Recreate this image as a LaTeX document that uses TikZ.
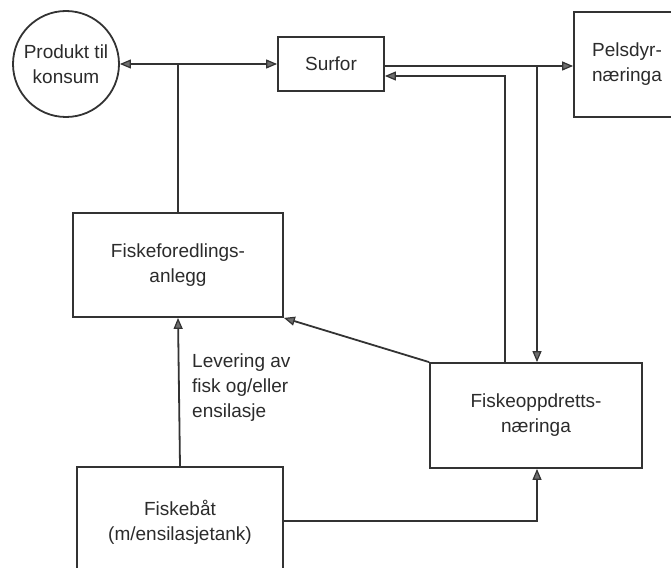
\documentclass[tikz,border=0pt]{standalone}
\usepackage{fontspec}
\setmainfont{Liberation Sans}
\usetikzlibrary{arrows.meta}
\definecolor{ink}{HTML}{333333}
\definecolor{tipfill}{HTML}{6E6E6E}
\begin{document}
\begin{tikzpicture}[x=1pt,y=1pt,
  every node/.style={font=\fontsize{19}{25}\selectfont, text=ink!85!black},
  box/.style={draw=ink, line width=1.8pt, rectangle, align=center, inner sep=0pt},
  conn/.style={draw=ink, line width=1.8pt},
  tip/.style={-{Triangle[length=11pt,width=9pt,line width=1.2pt,fill=tipfill]}},
  tipboth/.style={{Triangle[length=11pt,width=9pt,line width=1.2pt,fill=tipfill]}-{Triangle[length=11pt,width=9pt,line width=1.2pt,fill=tipfill]}}
]
\useasboundingbox (0,0) rectangle (671,-567);
\begin{scope}
\clip (0,0) rectangle (671,-567);
\node[draw=ink, line width=1.8pt, circle, minimum size=106pt, inner sep=0pt, align=center] (prod) at (66,-64) {Produkt til\\konsum};
\node[box, minimum width=106pt, minimum height=54pt] (surfor) at (331,-64) {Surfor};
\node[box, minimum width=106pt, minimum height=105pt] (pels) at (627,-64.5) {Pelsdyr-\\næringa};
\node[box, minimum width=210pt, minimum height=104pt] (fored) at (178,-265) {Fiskeforedlings-\\anlegg};
\node[box, minimum width=212pt, minimum height=105pt] (oppd) at (536,-415.5) {Fiskeoppdretts-\\næringa};
\node[box, minimum width=206pt, minimum height=110pt] (bat) at (180,-522) {Fiskebåt\\(m/ensilasjetank)};
\end{scope}

\node[align=left, anchor=north west, inner sep=0pt] (lev) at (192,-354) {Levering av\\fisk og/eller\\ensilasje};

% circle <-> Surfor
\draw[conn, tipboth] (prod) -- (surfor);
% Fiskeforedlingsanlegg up to that line
\coordinate (j1) at (fored.north |- prod.center);
\draw[conn] (fored.north) -- (j1);
% Surfor -> Pelsdyr
\coordinate (s1) at ([yshift=-2pt]surfor.east);
\draw[conn, tip] (s1) -- (s1 -| pels.west);
% branch down to Fiskeoppdrett
\coordinate (j2) at (537,-66);
\draw[conn, tip] (j2) -- (j2 |- oppd.north);
% Fiskeoppdrett back to Surfor
\coordinate (o1) at (505,-362.75);
\coordinate (c1) at (505,-76);
\draw[conn, tip] (o1) -- (c1) -- (c1 -| surfor.east);
% Fiskeoppdrett -> Fiskeforedling
\draw[conn, tip] (oppd.north west) -- (fored.south east);
% Fiskebåt -> Fiskeforedling
\draw[conn, tip] (bat.north) -- (fored.south);
% Fiskebåt -> Fiskeoppdrett
\coordinate (b1) at (bat.east |- 0,-521);
\coordinate (c2) at (537,-521);
\draw[conn, tip] (b1) -- (c2) -- (c2 |- oppd.south);
\end{tikzpicture}
\end{document}
